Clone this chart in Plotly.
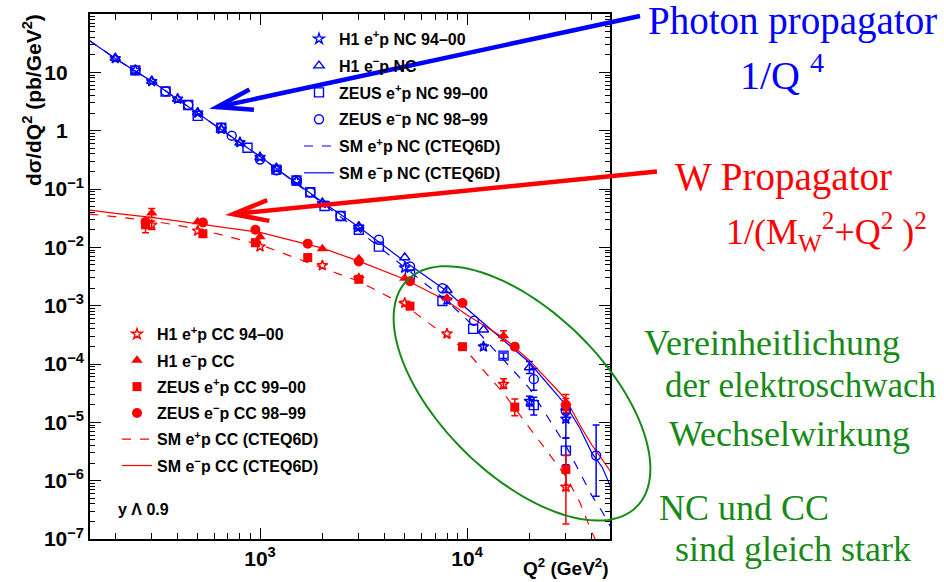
import numpy as np
import plotly.graph_objects as go

# ------------------------------------------------------------------ data
# Neutral current (NC) cross sections dσ/dQ² (pb/GeV²)
h1_pos_nc_q2 = [200, 250, 300, 400, 500, 650, 800, 1000, 1200, 1500, 2000, 3000, 5000, 8000, 12000, 20000, 30000]
h1_pos_nc_s = [17.3, 10.9, 7.0, 3.5, 2.02, 1.06, 0.63, 0.35, 0.225, 0.137, 0.057, 0.0222, 0.00446, 0.00125, 1.98e-4, 2.3e-5, 1.14e-5]
h1_pos_nc_ep = [0, 0, 0, 0, 0, 0, 0, 0, 0, 0, 0, 0, 0, 0, 2.0e-5, 5.0e-6, 6.2e-6]
h1_pos_nc_em = [0, 0, 0, 0, 0, 0, 0, 0, 0, 0, 0, 0, 0, 0, 2.0e-5, 4.0e-6, 6.0e-6]

h1_neg_nc_q2 = [200, 300, 400, 500, 650, 800, 1000, 1200, 1500, 2000, 3000, 5000, 8000, 12000, 20000, 30000]
h1_neg_nc_s = [17.6, 7.1, 3.5, 2.05, 1.05, 0.62, 0.35, 0.23, 0.139, 0.058, 0.0228, 0.0067, 0.00184, 3.86e-4, 8.7e-5, 1.8e-5]
h1_neg_nc_ep = [0, 0, 0, 0, 0, 0, 0, 0, 0, 0, 0, 0, 0, 0, 2.3e-5, 4.0e-6]
h1_neg_nc_em = [0, 0, 0, 0, 0, 0, 0, 0, 0, 0, 0, 0, 0, 0, 1.8e-5, 4.0e-6]

zeus_pos_nc_q2 = [250, 350, 450, 500, 650, 870, 1200, 1500, 1750, 2050, 2450, 3000, 3750, 5300, 7600, 10700, 15000, 21000, 30000]
zeus_pos_nc_s = [10.8, 4.7, 2.75, 1.79, 1.12, 0.51, 0.215, 0.14, 0.088, 0.051, 0.0345, 0.020, 0.0103, 0.00343, 0.0012, 4.0e-4, 1.39e-4, 1.97e-5, 3.27e-6]
zeus_pos_nc_ep = [0, 0, 0, 0, 0, 0, 0, 0, 0, 0, 0, 0, 0, 0, 0, 0, 1.5e-5, 7.3e-6, 2.1e-6]
zeus_pos_nc_em = [0, 0, 0, 0, 0, 0, 0, 0, 0, 0, 0, 0, 0, 0, 0, 0, 1.5e-5, 6.3e-6, 1.4e-6]

zeus_neg_nc_q2 = [250, 350, 450, 650, 730, 1000, 1200, 1500, 1750, 2450, 3750, 5300, 7600, 10800, 21000, 30000, 42000]
zeus_neg_nc_s = [10.8, 4.75, 2.75, 1.12, 0.82, 0.32, 0.21, 0.141, 0.088, 0.0345, 0.0135, 0.0047, 0.00199, 5.5e-4, 5.5e-5, 1.56e-5, 2.7e-6]
zeus_neg_nc_ep = [0, 0, 0, 0, 0, 0, 0, 0, 0, 0, 0, 0, 0, 0, 2.9e-5, 5.4e-6, 6.3e-6]
zeus_neg_nc_em = [0, 0, 0, 0, 0, 0, 0, 0, 0, 0, 0, 0, 0, 0, 1.95e-5, 4.6e-6, 2.16e-6]

# Charged current (CC)
h1_pos_cc_q2 = [300, 500, 1000, 2000, 3000, 5000, 8000, 15000, 30000]
h1_pos_cc_s = [0.0243, 0.0192, 0.0103, 0.00489, 0.0029, 0.00111, 3.3e-4, 4.5e-5, 7.8e-7]
h1_pos_cc_ep = [0.004, 0, 0, 0, 0, 0, 0, 1.1e-5, 7.0e-7]
h1_pos_cc_em = [0.004, 0, 0, 0, 0, 0, 0, 0.7e-5, 6.0e-7]

h1_neg_cc_q2 = [300, 500, 1000, 2000, 3000, 5000, 8000, 15000, 30000]
h1_neg_cc_s = [0.0388, 0.0275, 0.0152, 0.0095, 0.0064, 0.00294, 0.00135, 3.05e-4, 2.2e-5]
h1_neg_cc_ep = [0.0076, 0, 0, 0, 0, 0, 0, 6.5e-5, 8.0e-6]
h1_neg_cc_em = [0.0064, 0, 0, 0, 0, 0, 0, 5.5e-5, 6.0e-6]

zeus_pos_cc_q2 = [280, 530, 950, 1700, 3000, 5300, 9500, 17000, 30000]
zeus_pos_cc_s = [0.0244, 0.0171, 0.0120, 0.00668, 0.00283, 9.8e-4, 1.98e-4, 1.82e-5, 1.56e-6]
zeus_pos_cc_ep = [0.004, 0, 0, 0, 0, 0, 0, 6.8e-6, 1.14e-6]
zeus_pos_cc_em = [0.0066, 0, 0, 0, 0, 0, 0, 5.2e-6, 8.8e-7]

zeus_neg_cc_q2 = [280, 530, 950, 1700, 3000, 5300, 9500, 17000, 30000]
zeus_neg_cc_s = [0.0273, 0.0267, 0.0200, 0.01156, 0.00571, 0.00262, 0.00111, 1.98e-4, 1.97e-5]
zeus_neg_cc_ep = [0, 0, 0, 0, 0, 0, 0, 0, 6.0e-6]
zeus_neg_cc_em = [0, 0, 0, 0, 0, 0, 0, 0, 5.0e-6]

# Standard Model predictions (CTEQ6D)
sm_q2 = [150, 200, 300, 500, 1000, 2000, 3000, 5000, 8000, 10000, 15000, 20000, 30000, 35000, 40000, 45000, 50000]
sm_neg_nc = [34.9, 17.3, 7.0, 2.0, 0.36, 0.0597, 0.0224, 0.00571, 0.00177, 8.75e-4, 2.6e-4, 1.06e-4, 1.97e-5, 8.0e-6, 3.0e-6, 1.68e-6, 7.1e-7]
sm_pos_nc = [34.9, 17.3, 7.0, 2.0, 0.36, 0.0574, 0.0192, 0.00452, 0.0012, 5.7e-4, 1.19e-4, 3.84e-5, 3.98e-6, 1.38e-6, 5.6e-7, 2.9e-7, 1.49e-7]
sm_neg_cc = [0.0436, 0.0381, 0.0326, 0.0252, 0.0180, 0.0097, 0.0058, 0.00283, 0.0012, 6.9e-4, 2.82e-4, 1.15e-4, 2.49e-5, 9.1e-6, 4.1e-6, 2.3e-6, 1.33e-6]
sm_pos_cc = [0.0373, 0.0332, 0.0284, 0.0207, 0.0111, 0.00444, 0.00262, 0.00102, 2.93e-4, 1.63e-4, 3.16e-5, 8.0e-6, 1.18e-6, 4.3e-7, 1.32e-7, 5.6e-8, 3.2e-8]

# axis ticks
x_tickvals = [1e3, 1e4]
x_ticktext = ["10<sup>3</sup>", "10<sup>4</sup>"]
y_tickvals = [1e-7, 1e-6, 1e-5, 1e-4, 1e-3, 1e-2, 1e-1, 1, 10]
y_ticktext = ["10<sup>−7</sup>", "10<sup>−6</sup>", "10<sup>−5</sup>", "10<sup>−4</sup>",
              "10<sup>−3</sup>", "10<sup>−2</sup>", "10<sup>−1</sup>",
              "1<sup>\u2007\u2007</sup>", "10<sup>\u2007\u2007</sup>"]

# ------------------------------------------------------------------ style
BLUE = "#0000ff"
RED = "#ff0000"
GREEN = "#178a17"
SANS = "Liberation Sans"
SERIF = "Liberation Serif"

W, H = 944, 582
L, R, T, B = 90, 610, 13, 543


def px(x):
    return (x - L) / (R - L)


def py(y):
    return (B - y) / (B - T)


fig = go.Figure()


def add_curve(q, s, name, color, dash, legend, rank):
    fig.add_trace(go.Scatter(
        x=q, y=s, mode="lines", name=name, legend=legend, legendrank=rank,
        legendgroup=name, line=dict(color=color, width=1.2, dash=dash)))


def add_points(q, s, ep, em, name, color, symbol, size, legend, rank):
    q = np.asarray(q, float)
    s = np.asarray(s, float)
    ep = np.asarray(ep, float)
    em = np.asarray(em, float)
    m = (ep > 0) | (em > 0)
    if m.any():
        fig.add_trace(go.Scatter(
            x=q[m], y=s[m], mode="markers", showlegend=False, legend=legend,
            marker=dict(size=1, color="rgba(0,0,0,0)"), hoverinfo="skip",
            error_y=dict(type="data", symmetric=False, array=ep[m], arrayminus=em[m],
                         color=color, thickness=1.5, width=3.5)))
    open_sym = symbol.endswith("open")
    fig.add_trace(go.Scatter(
        x=q, y=s, mode="markers", name=name, legend=legend, legendrank=rank,
        legendgroup=name,
        marker=dict(symbol=symbol, size=size, color=color,
                    line=dict(color=color, width=1.4 if open_sym else 0))))


NC = "legend"
CC = "legend2"
add_curve(sm_q2, sm_pos_nc, "SM e<sup>+</sup>p NC (CTEQ6D)", BLUE, "dash", NC, 5)
add_curve(sm_q2, sm_neg_nc, "SM e<sup>−</sup>p NC (CTEQ6D)", BLUE, "solid", NC, 6)
add_curve(sm_q2, sm_pos_cc, "SM e<sup>+</sup>p CC (CTEQ6D)", RED, "dash", CC, 5)
add_curve(sm_q2, sm_neg_cc, "SM e<sup>−</sup>p CC (CTEQ6D)", RED, "solid", CC, 6)

add_points(h1_pos_nc_q2, h1_pos_nc_s, h1_pos_nc_ep, h1_pos_nc_em, "H1 e<sup>+</sup>p NC 94–00", BLUE, "star-open", 8, NC, 1)
add_points(h1_neg_nc_q2, h1_neg_nc_s, h1_neg_nc_ep, h1_neg_nc_em, "H1 e<sup>−</sup>p NC", BLUE, "triangle-up-open", 9, NC, 2)
add_points(zeus_pos_nc_q2, zeus_pos_nc_s, zeus_pos_nc_ep, zeus_pos_nc_em, "ZEUS e<sup>+</sup>p NC 99–00", BLUE, "square-open", 9, NC, 3)
add_points(zeus_neg_nc_q2, zeus_neg_nc_s, zeus_neg_nc_ep, zeus_neg_nc_em, "ZEUS e<sup>−</sup>p NC 98–99", BLUE, "circle-open", 9, NC, 4)

add_points(h1_pos_cc_q2, h1_pos_cc_s, h1_pos_cc_ep, h1_pos_cc_em, "H1 e<sup>+</sup>p CC 94–00", RED, "star-open", 8, CC, 1)
add_points(h1_neg_cc_q2, h1_neg_cc_s, h1_neg_cc_ep, h1_neg_cc_em, "H1 e<sup>−</sup>p CC", RED, "triangle-up", 10, CC, 2)
add_points(zeus_pos_cc_q2, zeus_pos_cc_s, zeus_pos_cc_ep, zeus_pos_cc_em, "ZEUS e<sup>+</sup>p CC 99–00", RED, "square", 9, CC, 3)
add_points(zeus_neg_cc_q2, zeus_neg_cc_s, zeus_neg_cc_ep, zeus_neg_cc_em, "ZEUS e<sup>−</sup>p CC 98–99", RED, "circle", 10, CC, 4)

# ------------------------------------------------------------------ shapes
shapes = []


def arrow(tail, tip, color):
    tx, ty = tip
    ang = np.arctan2(tail[1] - ty, tail[0] - tx)
    d = f"M {px(tail[0])},{py(tail[1])} L {px(tx)},{py(ty)}"
    wings = []
    for da in (np.radians(16.5), -np.radians(16.5)):
        wx = tx + 37 * np.cos(ang + da)
        wy = ty + 37 * np.sin(ang + da)
        wings.append((wx, wy))
    d2 = (f"M {px(wings[0][0])},{py(wings[0][1])} L {px(tx)},{py(ty)} "
          f"L {px(wings[1][0])},{py(wings[1][1])}")
    for path in (d, d2):
        shapes.append(dict(type="path", xref="paper", yref="paper", path=path,
                           line=dict(color=color, width=4.5), layer="above"))


arrow((640, 15), (217, 107), BLUE)
arrow((657, 172), (233, 215), RED)

# ellipse
cx, cy, a, b, th = 522, 396, 162, 82, np.radians(45)
t = np.linspace(0, 2 * np.pi, 121)
ex = cx + a * np.cos(t) * np.cos(th) - b * np.sin(t) * np.sin(th)
ey = cy + a * np.cos(t) * np.sin(th) + b * np.sin(t) * np.cos(th)
epath = "M " + " L ".join(f"{px(x):.5f},{py(y):.5f}" for x, y in zip(ex, ey)) + " Z"
shapes.append(dict(type="path", xref="paper", yref="paper", path=epath,
                   line=dict(color=GREEN, width=2), layer="above"))

# ------------------------------------------------------------------ annotations
ann = []


def text(s, x, y, size, color, family, xanchor="left", yanchor="middle", angle=0, bold=False):
    ann.append(dict(text=s, x=px(x), y=py(y), xref="paper", yref="paper",
                    xanchor=xanchor, yanchor=yanchor, showarrow=False, textangle=angle,
                    font=dict(size=size, color=color, family=family,
                              weight="bold" if bold else "normal")))


text("Photon propagator", 646, 20, 39, BLUE, SERIF)
text("1/Q <sup>4</sup>", 738, 72, 40, BLUE, SERIF)
text("W Propagator", 673, 178, 39, RED, SERIF)
text("1/(M<sub>W</sub><sup>2</sup>+Q<sup>2</sup> )<sup>2</sup>", 724, 233, 36, RED, SERIF)
text("Vereinheitlichung", 642, 345, 36, GREEN, SERIF)
text("der elektroschwach", 663, 388, 35, GREEN, SERIF)
text("Wechselwirkung", 667, 437, 36, GREEN, SERIF)
text("NC und CC", 657, 512, 36, GREEN, SERIF)
text("sind gleich stark", 673, 553, 36, GREEN, SERIF)
text("y Λ 0.9", 116, 513, 16, "black", SANS, bold=True)
text("Q<sup>2</sup> (GeV<sup>2</sup>)", 611, 571, 19, "black", SANS, xanchor="right", bold=True)
text("dσ/dQ<sup>2</sup> (pb/GeV<sup>2</sup>)", 32, 11, 21, "black", SANS,
     xanchor="center", yanchor="top", angle=-90, bold=True)

# ------------------------------------------------------------------ layout
x_minor = [k * 10 ** n for n in (2, 3, 4) for k in range(2, 10) if 150 < k * 10 ** n < 49000]
y_minor = [k * 10.0 ** n for n in range(-7, 2) for k in range(2, 10)]

axis_common = dict(showgrid=False, zeroline=False, showline=True, linecolor="black",
                   linewidth=1.5, mirror="ticks", ticks="inside", tickwidth=1.2,
                   tickcolor="black", tickmode="array",
                   tickfont=dict(family=SANS, size=21, color="black", weight="bold"))

fig.update_layout(
    width=W, height=H,
    margin=dict(l=L, r=W - R, t=T, b=H - B, pad=0),
    paper_bgcolor="white", plot_bgcolor="white",
    showlegend=True,
    xaxis=dict(type="log", range=[np.log10(151), np.log10(49000)], ticklen=11,
               tickvals=x_tickvals, ticktext=x_ticktext,
               minor=dict(ticks="inside", ticklen=6, tickwidth=1, tickcolor="black",
                          tickmode="array", tickvals=x_minor, showgrid=False),
               **axis_common),
    yaxis=dict(type="log", range=[-7, 2], ticklen=11,
               tickvals=y_tickvals, ticktext=y_ticktext,
               minor=dict(ticks="inside", ticklen=5, tickwidth=1, tickcolor="black",
                          tickmode="array", tickvals=y_minor, showgrid=False),
               **axis_common),
    legend=dict(x=px(299), y=py(21), xanchor="left", yanchor="top",
                bgcolor="rgba(0,0,0,0)", borderwidth=0, tracegroupgap=3, itemwidth=30,
                font=dict(family=SANS, size=16, color="black", weight="bold")),
    legend2=dict(x=px(117), y=py(319), xanchor="left", yanchor="top",
                 bgcolor="rgba(0,0,0,0)", borderwidth=0, tracegroupgap=2.5, itemwidth=30,
                 font=dict(family=SANS, size=16, color="black", weight="bold")),
    shapes=shapes,
    annotations=ann,
)

fig.write_html("out.html")
